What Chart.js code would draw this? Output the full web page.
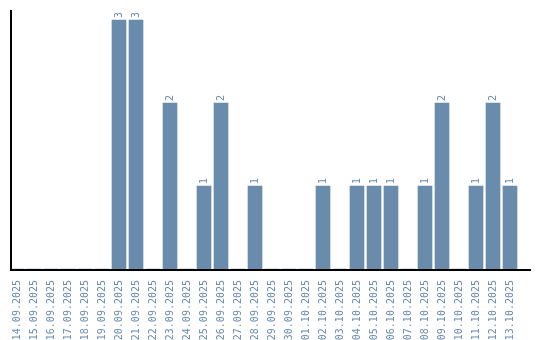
<!DOCTYPE html>
<html>
<head>
<meta charset="utf-8">
<script src="https://cdn.jsdelivr.net/npm/chart.js@4"></script>
<style>
    body { margin: 0; background: #fff; }
    #chart { display: block; }
</style>
</head>
<body>
<canvas id="chart" width="540" height="340"></canvas>
<script>
// Data
const days = [
    '14.09.2025', '15.09.2025', '16.09.2025', '17.09.2025', '18.09.2025',
    '19.09.2025', '20.09.2025', '21.09.2025', '22.09.2025', '23.09.2025',
    '24.09.2025', '25.09.2025', '26.09.2025', '27.09.2025', '28.09.2025',
    '29.09.2025', '30.09.2025', '01.10.2025', '02.10.2025', '03.10.2025',
    '04.10.2025', '05.10.2025', '06.10.2025', '07.10.2025', '08.10.2025',
    '09.10.2025', '10.10.2025', '11.10.2025', '12.10.2025', '13.10.2025'
];
const counts = [0, 0, 0, 0, 0, 0, 3, 3, 0, 2, 0, 1, 2, 0, 1, 0, 0, 0, 1, 0, 1, 1, 1, 0, 1, 2, 0, 1, 2, 1];

const barColor = '#6a8cac';
const labelFont = '"DejaVu Sans Mono", monospace';

// Axis lines (drawn a bit wider than the bar area, like the original)
const axisLines = {
    id: 'axisLines',
    afterDraw(chart) {
        const ctx = chart.ctx;
        const area = chart.chartArea;
        ctx.save();
        ctx.strokeStyle = '#000';
        ctx.lineWidth = 2;
        ctx.beginPath();
        ctx.moveTo(11, 10);
        ctx.lineTo(11, area.bottom + 2);
        ctx.moveTo(10, area.bottom + 1);
        ctx.lineTo(531, area.bottom + 1);
        ctx.stroke();
        ctx.restore();
    }
};

// Value labels above bars, rotated
const valueLabels = {
    id: 'valueLabels',
    afterDatasetsDraw(chart) {
        const ctx = chart.ctx;
        const meta = chart.getDatasetMeta(0);
        ctx.save();
        ctx.fillStyle = barColor;
        ctx.font = '10px ' + labelFont;
        ctx.textAlign = 'left';
        ctx.textBaseline = 'middle';
        meta.data.forEach((bar, i) => {
            const v = counts[i];
            if (!v) return;
            ctx.save();
            ctx.translate(bar.x, bar.y - 2);
            ctx.rotate(-Math.PI / 2);
            ctx.fillText(String(v), 0, 0);
            ctx.restore();
        });
        ctx.restore();
    }
};

new Chart(document.getElementById('chart'), {
    type: 'bar',
    data: {
        labels: days,
        datasets: [{
            data: counts,
            backgroundColor: barColor,
            borderWidth: 0,
            barThickness: 14
        }]
    },
    options: {
        responsive: false,
        animation: false,
        layout: {
            padding: { left: 8.5, right: 21.5, top: 10, bottom: 0 }
        },
        plugins: {
            legend: { display: false },
            tooltip: { enabled: false }
        },
        scales: {
            x: {
                offset: true,
                grid: { display: false },
                border: { display: false },
                ticks: {
                    minRotation: 90,
                    maxRotation: 90,
                    autoSkip: false,
                    padding: 3,
                    color: barColor,
                    font: { family: labelFont, size: 10 }
                },
                afterFit(scale) {
                    scale.height = 71;
                }
            },
            y: {
                display: false,
                min: 0,
                max: 3.12
            }
        }
    },
    plugins: [axisLines, valueLabels]
});
</script>
</body>
</html>
